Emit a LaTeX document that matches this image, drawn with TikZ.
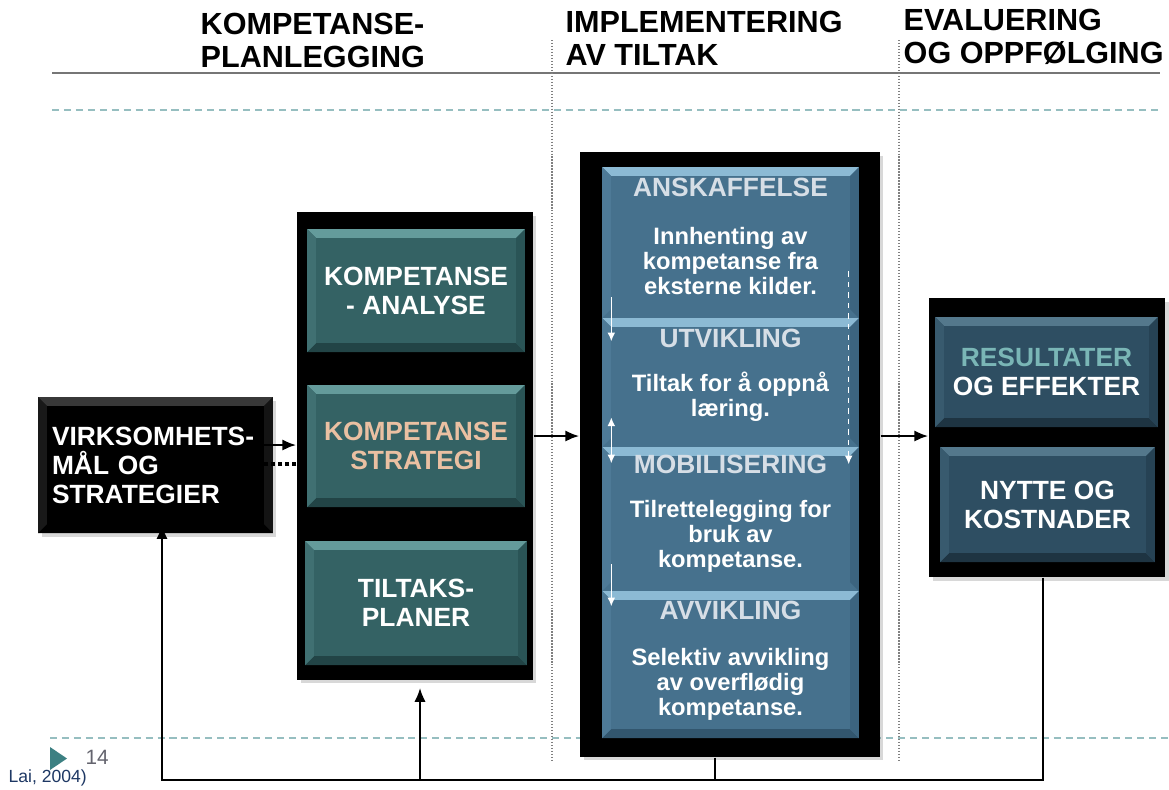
\documentclass[tikz,border=0pt]{standalone}
\usepackage{fontspec}
\setmainfont{Liberation Sans}
\usetikzlibrary{arrows.meta,shadows}

\definecolor{tealbox}{RGB}{52,98,100}
\definecolor{tealtop}{RGB}{100,155,155}
\definecolor{tealleft}{RGB}{64,112,114}
\definecolor{tealright}{RGB}{42,84,86}
\definecolor{tealbot}{RGB}{34,68,70}
\definecolor{implblue}{RGB}{70,113,141}
\definecolor{impltop}{RGB}{140,186,212}
\definecolor{implleft}{RGB}{78,122,151}
\definecolor{implright}{RGB}{60,100,127}
\definecolor{implbot}{RGB}{50,86,110}
\definecolor{evalblue}{RGB}{46,78,98}
\definecolor{evaltop}{RGB}{84,120,140}
\definecolor{evalleft}{RGB}{56,90,110}
\definecolor{evalright}{RGB}{38,66,84}
\definecolor{evalbot}{RGB}{30,52,66}
\definecolor{peach}{RGB}{234,192,162}
\definecolor{palecyan}{RGB}{122,182,182}
\definecolor{titlegrey}{RGB}{214,222,230}
\definecolor{gridteal}{RGB}{150,190,192}
\definecolor{rulegrey}{RGB}{118,118,118}
\definecolor{footteal}{RGB}{60,128,130}
\definecolor{pagegrey}{RGB}{100,100,110}
\definecolor{citeblue}{RGB}{30,56,100}

\newcommand\headfont{\fontsize{17.4}{18.8}\selectfont\bfseries}
\newcommand\boxfont{\fontsize{15}{16.5}\selectfont\bfseries}
\newcommand\descfont{\fontsize{13.5}{14.3}\selectfont\bfseries}

\begin{document}
\begin{tikzpicture}[x=0.02cm, y=-0.02cm, thick,
	head/.style = {anchor=north west, inner sep=0, align=left, font=\headfont},
	outer/.style = {fill=black, inner sep=0,
		drop shadow={shadow xshift=2pt, shadow yshift=-2pt, opacity=0.3}},
	bevel/.style n args = {4}{path picture={
		\coordinate (nw) at (path picture bounding box.north west);
		\coordinate (ne) at (path picture bounding box.north east);
		\coordinate (sw) at (path picture bounding box.south west);
		\coordinate (se) at (path picture bounding box.south east);
		\fill[#1] (nw) -- (ne) -- ([shift={(-5pt,-5pt)}]ne) -- ([shift={(5pt,-5pt)}]nw) -- cycle;
		\fill[#2] (sw) -- (se) -- ([shift={(-5pt,5pt)}]se) -- ([shift={(5pt,5pt)}]sw) -- cycle;
		\fill[#3] (nw) -- ([shift={(5pt,-5pt)}]nw) -- ([shift={(5pt,5pt)}]sw) -- (sw) -- cycle;
		\fill[#4] (ne) -- ([shift={(-5pt,-5pt)}]ne) -- ([shift={(-5pt,5pt)}]se) -- (se) -- cycle;}},
	inbox/.style = {fill=tealbox, bevel={tealtop}{tealbot}{tealleft}{tealright},
		inner sep=0, align=center, text=white, font=\boxfont},
	phase/.style = {fill=implblue, bevel={impltop}{implblue}{implleft}{implright},
		inner sep=0, minimum width=5.14cm},
	phasetitle/.style = {inner sep=0, text=titlegrey, font=\boxfont},
	phasedesc/.style = {inner sep=0, align=center, text=white, font=\descfont},
	evalin/.style = {fill=evalblue, bevel={evaltop}{evalbot}{evalleft}{evalright},
		inner sep=0, align=center, text=white, font=\boxfont},
	link/.style = {line width=1.5pt, -{Latex[length=8pt,width=6.5pt]}},
	flow/.style = {white, line width=0.9pt, -{Latex[length=5pt,width=4.5pt]}},
	grid/.style = {gridteal, line width=0.9pt, dash pattern=on 4pt off 2.8pt}]

	\fill[white] (0,0) rectangle (1169,789);
	\useasboundingbox (0,0) rectangle (1169,789);

	\draw[rulegrey, line width=1.5pt] (52,73) -- (1160,73);
	\draw[grid] (52,110) -- (1160,110);
	\draw[grid] (50,738) -- (1169,738);
	\draw[gray, line width=0.7pt, densely dotted] (552,40) -- (552,760);
	\draw[gray, line width=0.7pt, densely dotted] (899,40) -- (899,762);

	\node[head] (hplan) at (200,12) {KOMPETANSE-\\PLANLEGGING};
	\node[head] (himpl) at (565,10) {IMPLEMENTERING\\AV TILTAK};
	\node[head] (heval) at (903,8) {EVALUERING\\OG OPPFØLGING};

	\node[outer, bevel={black!78!white}{black}{black!90!white}{black!92!white},
		minimum width=4.7cm, minimum height=2.72cm, inner xsep=0.28cm,
		text width=4.14cm, align=left, text=white, font=\boxfont]
		(virk) at (155.5,465) {VIRKSOMHETS-\\MÅL OG\\STRATEGIER};

	\node[outer, minimum width=4.72cm, minimum height=9.36cm] (plan) at (415,446) {};
	\node[inbox, minimum width=4.36cm, minimum height=2.46cm] (analyse) at (416,290.5) {KOMPETANSE\\- ANALYSE};
	\node[inbox, text=peach, minimum width=4.36cm, minimum height=2.44cm] (strategi) at (416,446) {KOMPETANSE\\STRATEGI};
	\node[inbox, minimum width=4.44cm, minimum height=2.48cm] (planer) at (416,603) {TILTAKS-\\PLANER};

	\node[outer, minimum width=6cm, minimum height=12.1cm] (impl) at (730,454.5) {};
	\node[phase, minimum height=3.02cm] (anskaff) at (730.5,242.5) {};
	\node[phase, minimum height=2.58cm] (utvikl) at (730.5,382.5) {};
	\node[phase, minimum height=2.88cm] (mobil) at (730.5,519) {};
	\node[phase, bevel={impltop}{implbot}{implleft}{implright},
		minimum height=2.94cm] (avvikl) at (730.5,664.5) {};

	\node[phasetitle] (tanskaff) at (730.5,187) {ANSKAFFELSE};
	\node[phasedesc] (danskaff) at (730.5,261) {Innhenting av\\kompetanse fra\\eksterne kilder.};
	\node[phasetitle] (tutvikl) at (730.5,338) {UTVIKLING};
	\node[phasedesc] (dutvikl) at (730.5,397) {Tiltak for å oppnå\\læring.};
	\node[phasetitle] (tmobil) at (730.5,464) {MOBILISERING};
	\node[phasedesc] (dmobil) at (730.5,536.5) {Tilrettelegging for\\bruk av\\kompetanse.};
	\node[phasetitle] (tavvikl) at (730.5,610) {AVVIKLING};
	\node[phasedesc] (davvikl) at (730.5,684) {Selektiv avvikling\\av overflødig\\kompetanse.};

	\draw[flow] ([shift={(10,-20)}]utvikl.north west) -- ([shift={(10,24)}]utvikl.north west);
	\draw[flow, {Latex[length=5pt,width=4.5pt]}-{Latex[length=5pt,width=4.5pt]}]
		([shift={(10,-29)}]mobil.north west) -- ([shift={(10,17)}]mobil.north west);
	\draw[flow] ([shift={(10,-26)}]avvikl.north west) -- ([shift={(10,16)}]avvikl.north west);
	\draw[flow, dashed] ([shift={(-11,105)}]anskaff.north east) -- ([shift={(-11,18)}]mobil.north east);

	\node[outer, minimum width=4.72cm, minimum height=5.58cm] (evalbox) at (1047,437.5) {};
	\node[evalin, minimum width=4.46cm, minimum height=2.2cm] (result) at (1046.5,372)
		{\textcolor{palecyan}{RESULTATER}\\OG EFFEKTER};
	\node[evalin, minimum width=4.3cm, minimum height=2.3cm] (nytte) at (1047.5,504.5) {NYTTE OG\\KOSTNADER};

	% forward links
	\coordinate (v1) at ([shift={(-28,-20)}]virk.east);
	\coordinate (v2) at ([shift={(0,18)}]plan.west);
	\coordinate (v3) at ([shift={(-25,-1)}]virk.east);
	\coordinate (p1) at ([shift={(0,-10)}]plan.east);
	\coordinate (i1) at ([shift={(0,-18.5)}]impl.east);
	\draw[link] (v1) -- (v1 -| plan.west);
	\draw[link, dash pattern=on 2.2pt off 1.8pt, line width=2pt] (v2) -- (v3);
	\draw[link] (p1) -- (p1 -| impl.west);
	\draw[link] (i1) -- (i1 -| evalbox.west);

	% feedback loop along the bottom
	\coordinate (busR) at (1043,780);
	\coordinate (busM) at (715,780);
	\coordinate (busP) at (420,780);
	\coordinate (busL) at (162,780);
	\draw[link, shorten >=-5pt] (busR |- evalbox.south) -- (busR) -- (busL) -- (busL |- virk.south);
	\draw[line width=1.5pt] (busM |- impl.south) -- (busM);
	\draw[link, shorten >=4pt] (busP) -- (busP |- plan.south);

	\fill[footteal] (50,747) -- (67,758.5) -- (50,770) -- cycle;
	\node[anchor=west, inner sep=0, text=pagegrey, font=\fontsize{11.8}{12}\selectfont] (pageno) at (85,757) {14};
	\node[anchor=west, inner sep=0, text=citeblue, font=\fontsize{10}{11}\selectfont] (cite) at (8,778) {Lai, 2004)};
\end{tikzpicture}
\end{document}
